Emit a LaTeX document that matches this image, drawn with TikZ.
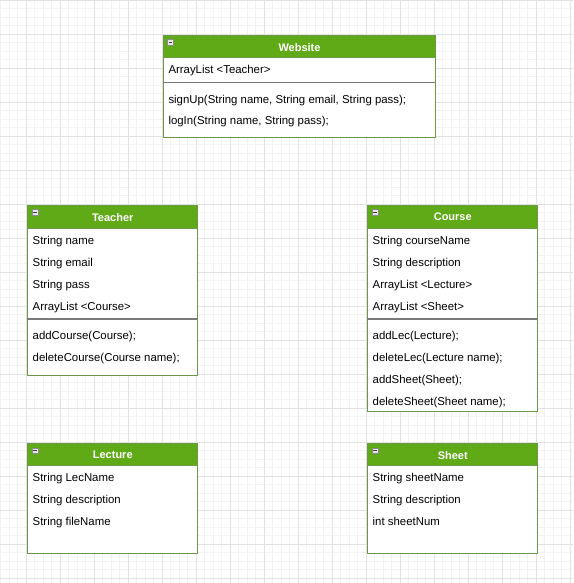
\documentclass[tikz,border=0pt]{standalone}
\usepackage{fontspec}
\setmainfont{Liberation Sans}
\definecolor{hdrgreen}{HTML}{60A917}
\definecolor{boxborder}{HTML}{6A9A45}
\definecolor{sepgray}{HTML}{7A7A7A}
\definecolor{gridminor}{HTML}{F2F2F2}
\definecolor{gridmajor}{HTML}{E2E2E2}
\definecolor{iconfill}{HTML}{E6E6E6}
\definecolor{iconborder}{HTML}{8A8A8A}
\usetikzlibrary{calc}
\tikzset{
  classbody/.style={draw=boxborder, fill=white, line width=0.9pt, inner sep=0pt, anchor=north west},
  classhdr/.style={draw=boxborder, fill=hdrgreen, line width=0.9pt, inner sep=0pt, anchor=north west},
  title/.style={text=white, font=\bfseries\fontsize{11}{13}\selectfont, inner sep=0pt},
  member/.style={anchor=base west, font=\fontsize{11.4}{13}\selectfont, inner sep=0pt},
  sepline/.style={draw=sepgray, line width=1.1pt},
  iconbox/.style={draw=iconborder, fill=iconfill, line width=0.6pt},
}
\newcommand{\classbox}[7]{% name, x, y, width, bodyheight, title, headerheight
  \node[classbody, minimum width=#4pt, minimum height=#5pt] (#1) at (#2,#3) {};
  \node[classhdr, minimum width=#4pt, minimum height=#7pt] (#1-hdr) at (#2,#3) {};
  \node[title] (#1-title) at ($(#1-hdr.center)+(0,0.5)$) {#6};
  \filldraw[iconbox] ($(#1-hdr.north west)+(4.5,4.5)$) rectangle ++(6,5.5);
  \draw[black!75, line width=0.9pt] ($(#1-hdr.north west)+(5.8,7.2)$) -- ++(3.4,0);
}
\begin{document}
\begin{tikzpicture}[x=1pt,y=-1pt]
\useasboundingbox (0,0) rectangle (573,583);
\fill[white] (0,0) rectangle (573,583);
% grid
\foreach \i in {0,...,67} {
  \draw[gridminor, line width=0.6pt] ({0.5+8.5*\i},0) -- ({0.5+8.5*\i},583);
}
\foreach \i in {0,...,68} {
  \draw[gridminor, line width=0.6pt] (0,{8.5*\i}) -- (573,{8.5*\i});
}
\foreach \i in {0,...,16} {
  \draw[gridmajor, line width=0.7pt] ({26+34*\i},0) -- ({26+34*\i},583);
}
\foreach \i in {0,...,17} {
  \draw[gridmajor, line width=0.7pt] (0,{34*\i}) -- (573,{34*\i});
}

% Website
\classbox{website}{162.8}{35}{272.5}{102}{Website}{22.5}
\node[member] (w1) at (168.3,74) {ArrayList <Teacher>};
\draw[sepline] (162.8,82.5) coordinate (ws1) -- (435.3,82.5) coordinate (ws2);
\node[member] (w2) at (168.3,103) {signUp(String name, String email, String pass);};
\node[member] (w3) at (168.3,124.5) {logIn(String name, String pass);};

% Teacher
\classbox{teacher}{27.3}{205}{170}{169.5}{Teacher}{22.5}
\node[member] (t1) at (32.5,244) {String name};
\node[member] (t2) at (32.5,266) {String email};
\node[member] (t3) at (32.5,288) {String pass};
\node[member] (t4) at (32.5,310) {ArrayList <Course>};
\draw[sepline] (27.3,319) coordinate (ts1) -- (197.3,319) coordinate (ts2);
\node[member] (t5) at (32.5,339) {addCourse(Course);};
\node[member] (t6) at (32.5,361) {deleteCourse(Course name);};

% Course
\classbox{course}{367.3}{205}{170}{206}{Course}{22.5}
\node[member] (c1) at (372.5,244) {String courseName};
\node[member] (c2) at (372.5,266) {String description};
\node[member] (c3) at (372.5,288) {ArrayList <Lecture>};
\node[member] (c4) at (372.5,310) {ArrayList <Sheet>};
\draw[sepline] (367.3,319) coordinate (cs1) -- (537.3,319) coordinate (cs2);
\node[member] (c5) at (372.5,339) {addLec(Lecture);};
\node[member] (c6) at (372.5,361) {deleteLec(Lecture name);};
\node[member] (c7) at (372.5,383) {addSheet(Sheet);};
\node[member] (c8) at (372.5,405) {deleteSheet(Sheet name);};

% Lecture
\classbox{lecture}{27.3}{443.3}{170}{110}{Lecture}{22}
\node[member] (l1) at (32.5,481.5) {String LecName};
\node[member] (l2) at (32.5,503.5) {String description};
\node[member] (l3) at (32.5,525.5) {String fileName};

% Sheet
\classbox{sheet}{367.3}{443.3}{170}{110}{Sheet}{22}
\node[member] (s1) at (372.5,481.5) {String sheetName};
\node[member] (s2) at (372.5,503.5) {String description};
\node[member] (s3) at (372.5,525.5) {int sheetNum};
\end{tikzpicture}
\end{document}
